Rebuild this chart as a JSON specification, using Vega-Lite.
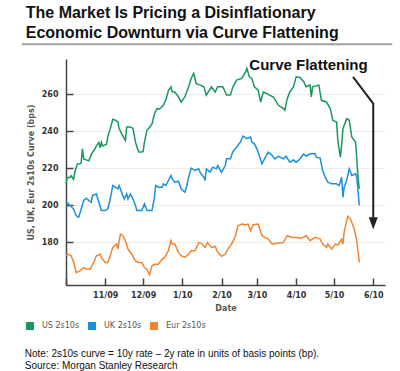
{
  "$schema": "https://vega.github.io/schema/vega-lite/v6.json",
  "padding": {"left": 20, "top": 4, "right": 9, "bottom": 4},
  "title": {
    "text": ["The Market Is Pricing a Disinflationary", "Economic Downturn via Curve Flattening"],
    "anchor": "start", "frame": "bounds", "dx": 5,
    "font": "Liberation Sans", "fontSize": 16, "fontWeight": "bold", "color": "#111111",
    "lineHeight": 20.6, "offset": 2
  },
  "datasets": {
    "curves": [
      {"date": "2009-10-01", "series": "US 2s10s", "value": 212},
      {"date": "2009-10-02", "series": "US 2s10s", "value": 215},
      {"date": "2009-10-04", "series": "US 2s10s", "value": 215},
      {"date": "2009-10-05", "series": "US 2s10s", "value": 216},
      {"date": "2009-10-07", "series": "US 2s10s", "value": 214},
      {"date": "2009-10-08", "series": "US 2s10s", "value": 218},
      {"date": "2009-10-10", "series": "US 2s10s", "value": 222.4},
      {"date": "2009-10-12", "series": "US 2s10s", "value": 222.5},
      {"date": "2009-10-13", "series": "US 2s10s", "value": 223},
      {"date": "2009-10-14", "series": "US 2s10s", "value": 230.5},
      {"date": "2009-10-15", "series": "US 2s10s", "value": 225},
      {"date": "2009-10-19", "series": "US 2s10s", "value": 224},
      {"date": "2009-10-21", "series": "US 2s10s", "value": 227.5},
      {"date": "2009-10-23", "series": "US 2s10s", "value": 229.6},
      {"date": "2009-10-25", "series": "US 2s10s", "value": 232},
      {"date": "2009-10-27", "series": "US 2s10s", "value": 234},
      {"date": "2009-10-28", "series": "US 2s10s", "value": 231},
      {"date": "2009-10-29", "series": "US 2s10s", "value": 234},
      {"date": "2009-10-30", "series": "US 2s10s", "value": 232},
      {"date": "2009-11-02", "series": "US 2s10s", "value": 233},
      {"date": "2009-11-03", "series": "US 2s10s", "value": 237},
      {"date": "2009-11-05", "series": "US 2s10s", "value": 241.4},
      {"date": "2009-11-07", "series": "US 2s10s", "value": 246.5},
      {"date": "2009-11-09", "series": "US 2s10s", "value": 246},
      {"date": "2009-11-11", "series": "US 2s10s", "value": 245},
      {"date": "2009-11-12", "series": "US 2s10s", "value": 241.5},
      {"date": "2009-11-14", "series": "US 2s10s", "value": 238.7},
      {"date": "2009-11-17", "series": "US 2s10s", "value": 235},
      {"date": "2009-11-18", "series": "US 2s10s", "value": 242.3},
      {"date": "2009-11-21", "series": "US 2s10s", "value": 242.3},
      {"date": "2009-11-23", "series": "US 2s10s", "value": 241.5},
      {"date": "2009-11-25", "series": "US 2s10s", "value": 234},
      {"date": "2009-11-27", "series": "US 2s10s", "value": 229.6},
      {"date": "2009-11-28", "series": "US 2s10s", "value": 228.7},
      {"date": "2009-12-01", "series": "US 2s10s", "value": 229},
      {"date": "2009-12-02", "series": "US 2s10s", "value": 234},
      {"date": "2009-12-04", "series": "US 2s10s", "value": 240.5},
      {"date": "2009-12-06", "series": "US 2s10s", "value": 242},
      {"date": "2009-12-08", "series": "US 2s10s", "value": 244},
      {"date": "2009-12-10", "series": "US 2s10s", "value": 249.5},
      {"date": "2009-12-12", "series": "US 2s10s", "value": 252.2},
      {"date": "2009-12-14", "series": "US 2s10s", "value": 252},
      {"date": "2009-12-17", "series": "US 2s10s", "value": 254},
      {"date": "2009-12-19", "series": "US 2s10s", "value": 257},
      {"date": "2009-12-21", "series": "US 2s10s", "value": 262},
      {"date": "2009-12-23", "series": "US 2s10s", "value": 264},
      {"date": "2009-12-24", "series": "US 2s10s", "value": 261.2},
      {"date": "2009-12-26", "series": "US 2s10s", "value": 261.2},
      {"date": "2009-12-29", "series": "US 2s10s", "value": 258.5},
      {"date": "2009-12-31", "series": "US 2s10s", "value": 255.8},
      {"date": "2010-01-03", "series": "US 2s10s", "value": 258.5},
      {"date": "2010-01-06", "series": "US 2s10s", "value": 264},
      {"date": "2010-01-08", "series": "US 2s10s", "value": 268.5},
      {"date": "2010-01-10", "series": "US 2s10s", "value": 271.2},
      {"date": "2010-01-12", "series": "US 2s10s", "value": 265.7},
      {"date": "2010-01-15", "series": "US 2s10s", "value": 264.9},
      {"date": "2010-01-18", "series": "US 2s10s", "value": 264},
      {"date": "2010-01-20", "series": "US 2s10s", "value": 259.5},
      {"date": "2010-01-24", "series": "US 2s10s", "value": 264},
      {"date": "2010-01-27", "series": "US 2s10s", "value": 261.2},
      {"date": "2010-01-29", "series": "US 2s10s", "value": 264},
      {"date": "2010-02-02", "series": "US 2s10s", "value": 264},
      {"date": "2010-02-05", "series": "US 2s10s", "value": 259.5},
      {"date": "2010-02-08", "series": "US 2s10s", "value": 259.5},
      {"date": "2010-02-10", "series": "US 2s10s", "value": 264},
      {"date": "2010-02-13", "series": "US 2s10s", "value": 267.6},
      {"date": "2010-02-17", "series": "US 2s10s", "value": 268.5},
      {"date": "2010-02-20", "series": "US 2s10s", "value": 272},
      {"date": "2010-02-21", "series": "US 2s10s", "value": 273.9},
      {"date": "2010-02-23", "series": "US 2s10s", "value": 269.4},
      {"date": "2010-02-25", "series": "US 2s10s", "value": 268.5},
      {"date": "2010-02-27", "series": "US 2s10s", "value": 264},
      {"date": "2010-03-02", "series": "US 2s10s", "value": 262.2},
      {"date": "2010-03-04", "series": "US 2s10s", "value": 255.8},
      {"date": "2010-03-06", "series": "US 2s10s", "value": 261.2},
      {"date": "2010-03-09", "series": "US 2s10s", "value": 260.3},
      {"date": "2010-03-11", "series": "US 2s10s", "value": 259.5},
      {"date": "2010-03-14", "series": "US 2s10s", "value": 258.5},
      {"date": "2010-03-18", "series": "US 2s10s", "value": 254},
      {"date": "2010-03-22", "series": "US 2s10s", "value": 252.2},
      {"date": "2010-03-23", "series": "US 2s10s", "value": 251.3},
      {"date": "2010-03-25", "series": "US 2s10s", "value": 257.6},
      {"date": "2010-03-27", "series": "US 2s10s", "value": 261.2},
      {"date": "2010-03-30", "series": "US 2s10s", "value": 264},
      {"date": "2010-04-01", "series": "US 2s10s", "value": 269.4},
      {"date": "2010-04-04", "series": "US 2s10s", "value": 269},
      {"date": "2010-04-07", "series": "US 2s10s", "value": 266.7},
      {"date": "2010-04-09", "series": "US 2s10s", "value": 264},
      {"date": "2010-04-12", "series": "US 2s10s", "value": 265},
      {"date": "2010-04-13", "series": "US 2s10s", "value": 258.5},
      {"date": "2010-04-14", "series": "US 2s10s", "value": 264},
      {"date": "2010-04-19", "series": "US 2s10s", "value": 264.9},
      {"date": "2010-04-21", "series": "US 2s10s", "value": 256.7},
      {"date": "2010-04-25", "series": "US 2s10s", "value": 255.8},
      {"date": "2010-04-28", "series": "US 2s10s", "value": 252.2},
      {"date": "2010-04-30", "series": "US 2s10s", "value": 245.9},
      {"date": "2010-05-03", "series": "US 2s10s", "value": 245},
      {"date": "2010-05-04", "series": "US 2s10s", "value": 235},
      {"date": "2010-05-06", "series": "US 2s10s", "value": 226},
      {"date": "2010-05-07", "series": "US 2s10s", "value": 232.4},
      {"date": "2010-05-08", "series": "US 2s10s", "value": 241.4},
      {"date": "2010-05-11", "series": "US 2s10s", "value": 246.8},
      {"date": "2010-05-13", "series": "US 2s10s", "value": 245.9},
      {"date": "2010-05-15", "series": "US 2s10s", "value": 236.9},
      {"date": "2010-05-18", "series": "US 2s10s", "value": 234.2},
      {"date": "2010-05-19", "series": "US 2s10s", "value": 225.1},
      {"date": "2010-05-20", "series": "US 2s10s", "value": 214.3},
      {"date": "2010-05-21", "series": "US 2s10s", "value": 208.9},

      {"date": "2009-10-01", "series": "UK 2s10s", "value": 202},
      {"date": "2009-10-04", "series": "UK 2s10s", "value": 200.2},
      {"date": "2009-10-07", "series": "UK 2s10s", "value": 198},
      {"date": "2009-10-09", "series": "UK 2s10s", "value": 194.5},
      {"date": "2009-10-11", "series": "UK 2s10s", "value": 193.5},
      {"date": "2009-10-13", "series": "UK 2s10s", "value": 198},
      {"date": "2009-10-15", "series": "UK 2s10s", "value": 202.6},
      {"date": "2009-10-17", "series": "UK 2s10s", "value": 203.8},
      {"date": "2009-10-19", "series": "UK 2s10s", "value": 202.6},
      {"date": "2009-10-21", "series": "UK 2s10s", "value": 201.7},
      {"date": "2009-10-22", "series": "UK 2s10s", "value": 205.3},
      {"date": "2009-10-25", "series": "UK 2s10s", "value": 206.2},
      {"date": "2009-10-27", "series": "UK 2s10s", "value": 201.7},
      {"date": "2009-10-29", "series": "UK 2s10s", "value": 197.2},
      {"date": "2009-11-01", "series": "UK 2s10s", "value": 197.2},
      {"date": "2009-11-03", "series": "UK 2s10s", "value": 198},
      {"date": "2009-11-05", "series": "UK 2s10s", "value": 203.4},
      {"date": "2009-11-07", "series": "UK 2s10s", "value": 210.7},
      {"date": "2009-11-09", "series": "UK 2s10s", "value": 209.8},
      {"date": "2009-11-11", "series": "UK 2s10s", "value": 208.9},
      {"date": "2009-11-12", "series": "UK 2s10s", "value": 210.7},
      {"date": "2009-11-14", "series": "UK 2s10s", "value": 207},
      {"date": "2009-11-16", "series": "UK 2s10s", "value": 203.4},
      {"date": "2009-11-18", "series": "UK 2s10s", "value": 206.2},
      {"date": "2009-11-19", "series": "UK 2s10s", "value": 203.4},
      {"date": "2009-11-21", "series": "UK 2s10s", "value": 206.2},
      {"date": "2009-11-23", "series": "UK 2s10s", "value": 203.4},
      {"date": "2009-11-25", "series": "UK 2s10s", "value": 199.9},
      {"date": "2009-11-26", "series": "UK 2s10s", "value": 197.2},
      {"date": "2009-11-30", "series": "UK 2s10s", "value": 197.2},
      {"date": "2009-12-02", "series": "UK 2s10s", "value": 200.8},
      {"date": "2009-12-04", "series": "UK 2s10s", "value": 197.2},
      {"date": "2009-12-08", "series": "UK 2s10s", "value": 197.2},
      {"date": "2009-12-10", "series": "UK 2s10s", "value": 204.4},
      {"date": "2009-12-11", "series": "UK 2s10s", "value": 210.7},
      {"date": "2009-12-13", "series": "UK 2s10s", "value": 209.8},
      {"date": "2009-12-16", "series": "UK 2s10s", "value": 209.8},
      {"date": "2009-12-17", "series": "UK 2s10s", "value": 211.6},
      {"date": "2009-12-19", "series": "UK 2s10s", "value": 210.7},
      {"date": "2009-12-21", "series": "UK 2s10s", "value": 213.4},
      {"date": "2009-12-23", "series": "UK 2s10s", "value": 216.1},
      {"date": "2009-12-24", "series": "UK 2s10s", "value": 214.3},
      {"date": "2009-12-26", "series": "UK 2s10s", "value": 212.5},
      {"date": "2009-12-29", "series": "UK 2s10s", "value": 213},
      {"date": "2009-12-31", "series": "UK 2s10s", "value": 208.9},
      {"date": "2010-01-03", "series": "UK 2s10s", "value": 207.1},
      {"date": "2010-01-04", "series": "UK 2s10s", "value": 208.9},
      {"date": "2010-01-06", "series": "UK 2s10s", "value": 215.2},
      {"date": "2010-01-08", "series": "UK 2s10s", "value": 220.1},
      {"date": "2010-01-11", "series": "UK 2s10s", "value": 218.8},
      {"date": "2010-01-14", "series": "UK 2s10s", "value": 219.7},
      {"date": "2010-01-15", "series": "UK 2s10s", "value": 217.9},
      {"date": "2010-01-18", "series": "UK 2s10s", "value": 215.2},
      {"date": "2010-01-19", "series": "UK 2s10s", "value": 213.4},
      {"date": "2010-01-20", "series": "UK 2s10s", "value": 219.7},
      {"date": "2010-01-23", "series": "UK 2s10s", "value": 218},
      {"date": "2010-01-25", "series": "UK 2s10s", "value": 220.6},
      {"date": "2010-01-28", "series": "UK 2s10s", "value": 219.7},
      {"date": "2010-01-29", "series": "UK 2s10s", "value": 221.5},
      {"date": "2010-02-01", "series": "UK 2s10s", "value": 217.9},
      {"date": "2010-02-04", "series": "UK 2s10s", "value": 221.5},
      {"date": "2010-02-05", "series": "UK 2s10s", "value": 225.1},
      {"date": "2010-02-08", "series": "UK 2s10s", "value": 225.1},
      {"date": "2010-02-10", "series": "UK 2s10s", "value": 229},
      {"date": "2010-02-13", "series": "UK 2s10s", "value": 231.5},
      {"date": "2010-02-16", "series": "UK 2s10s", "value": 234.2},
      {"date": "2010-02-18", "series": "UK 2s10s", "value": 237.4},
      {"date": "2010-02-21", "series": "UK 2s10s", "value": 236},
      {"date": "2010-02-24", "series": "UK 2s10s", "value": 236.9},
      {"date": "2010-02-25", "series": "UK 2s10s", "value": 234.2},
      {"date": "2010-02-27", "series": "UK 2s10s", "value": 233.2},
      {"date": "2010-03-01", "series": "UK 2s10s", "value": 230.5},
      {"date": "2010-03-02", "series": "UK 2s10s", "value": 228.7},
      {"date": "2010-03-05", "series": "UK 2s10s", "value": 222.4},
      {"date": "2010-03-07", "series": "UK 2s10s", "value": 225.1},
      {"date": "2010-03-10", "series": "UK 2s10s", "value": 228.7},
      {"date": "2010-03-13", "series": "UK 2s10s", "value": 227},
      {"date": "2010-03-15", "series": "UK 2s10s", "value": 225.1},
      {"date": "2010-03-18", "series": "UK 2s10s", "value": 226.5},
      {"date": "2010-03-22", "series": "UK 2s10s", "value": 225.1},
      {"date": "2010-03-24", "series": "UK 2s10s", "value": 226.5},
      {"date": "2010-03-27", "series": "UK 2s10s", "value": 223.3},
      {"date": "2010-03-30", "series": "UK 2s10s", "value": 224.5},
      {"date": "2010-04-01", "series": "UK 2s10s", "value": 223.3},
      {"date": "2010-04-04", "series": "UK 2s10s", "value": 225},
      {"date": "2010-04-07", "series": "UK 2s10s", "value": 227.8},
      {"date": "2010-04-09", "series": "UK 2s10s", "value": 226.5},
      {"date": "2010-04-12", "series": "UK 2s10s", "value": 227.8},
      {"date": "2010-04-16", "series": "UK 2s10s", "value": 227.8},
      {"date": "2010-04-17", "series": "UK 2s10s", "value": 226},
      {"date": "2010-04-20", "series": "UK 2s10s", "value": 225.5},
      {"date": "2010-04-22", "series": "UK 2s10s", "value": 218.8},
      {"date": "2010-04-24", "series": "UK 2s10s", "value": 215.2},
      {"date": "2010-04-26", "series": "UK 2s10s", "value": 212.5},
      {"date": "2010-04-29", "series": "UK 2s10s", "value": 211.6},
      {"date": "2010-05-03", "series": "UK 2s10s", "value": 211.6},
      {"date": "2010-05-05", "series": "UK 2s10s", "value": 210.7},
      {"date": "2010-05-07", "series": "UK 2s10s", "value": 215.2},
      {"date": "2010-05-08", "series": "UK 2s10s", "value": 204.4},
      {"date": "2010-05-09", "series": "UK 2s10s", "value": 209.8},
      {"date": "2010-05-11", "series": "UK 2s10s", "value": 213.4},
      {"date": "2010-05-13", "series": "UK 2s10s", "value": 219.7},
      {"date": "2010-05-15", "series": "UK 2s10s", "value": 216.1},
      {"date": "2010-05-18", "series": "UK 2s10s", "value": 217},
      {"date": "2010-05-19", "series": "UK 2s10s", "value": 215.2},
      {"date": "2010-05-20", "series": "UK 2s10s", "value": 207.1},
      {"date": "2010-05-21", "series": "UK 2s10s", "value": 200},

      {"date": "2009-10-01", "series": "Eur 2s10s", "value": 173.1},
      {"date": "2009-10-03", "series": "Eur 2s10s", "value": 173.6},
      {"date": "2009-10-05", "series": "Eur 2s10s", "value": 172.8},
      {"date": "2009-10-07", "series": "Eur 2s10s", "value": 169.5},
      {"date": "2009-10-09", "series": "Eur 2s10s", "value": 163.7},
      {"date": "2009-10-12", "series": "Eur 2s10s", "value": 164.6},
      {"date": "2009-10-15", "series": "Eur 2s10s", "value": 166.4},
      {"date": "2009-10-17", "series": "Eur 2s10s", "value": 165.5},
      {"date": "2009-10-20", "series": "Eur 2s10s", "value": 165.5},
      {"date": "2009-10-23", "series": "Eur 2s10s", "value": 169.2},
      {"date": "2009-10-25", "series": "Eur 2s10s", "value": 172.8},
      {"date": "2009-10-28", "series": "Eur 2s10s", "value": 173.6},
      {"date": "2009-10-29", "series": "Eur 2s10s", "value": 171.9},
      {"date": "2009-11-01", "series": "Eur 2s10s", "value": 169.2},
      {"date": "2009-11-03", "series": "Eur 2s10s", "value": 169.2},
      {"date": "2009-11-05", "series": "Eur 2s10s", "value": 172.8},
      {"date": "2009-11-07", "series": "Eur 2s10s", "value": 177.3},
      {"date": "2009-11-10", "series": "Eur 2s10s", "value": 179.1},
      {"date": "2009-11-11", "series": "Eur 2s10s", "value": 176.4},
      {"date": "2009-11-13", "series": "Eur 2s10s", "value": 184.5},
      {"date": "2009-11-15", "series": "Eur 2s10s", "value": 183.6},
      {"date": "2009-11-17", "series": "Eur 2s10s", "value": 180.9},
      {"date": "2009-11-19", "series": "Eur 2s10s", "value": 176.4},
      {"date": "2009-11-22", "series": "Eur 2s10s", "value": 173.6},
      {"date": "2009-11-25", "series": "Eur 2s10s", "value": 170},
      {"date": "2009-11-27", "series": "Eur 2s10s", "value": 169.2},
      {"date": "2009-11-30", "series": "Eur 2s10s", "value": 169.2},
      {"date": "2009-12-02", "series": "Eur 2s10s", "value": 166.4},
      {"date": "2009-12-04", "series": "Eur 2s10s", "value": 165.5},
      {"date": "2009-12-06", "series": "Eur 2s10s", "value": 162.5},
      {"date": "2009-12-08", "series": "Eur 2s10s", "value": 167.4},
      {"date": "2009-12-10", "series": "Eur 2s10s", "value": 168.2},
      {"date": "2009-12-13", "series": "Eur 2s10s", "value": 168.2},
      {"date": "2009-12-16", "series": "Eur 2s10s", "value": 171},
      {"date": "2009-12-18", "series": "Eur 2s10s", "value": 171.9},
      {"date": "2009-12-21", "series": "Eur 2s10s", "value": 175.5},
      {"date": "2009-12-23", "series": "Eur 2s10s", "value": 181},
      {"date": "2009-12-24", "series": "Eur 2s10s", "value": 179.1},
      {"date": "2009-12-26", "series": "Eur 2s10s", "value": 179.1},
      {"date": "2009-12-29", "series": "Eur 2s10s", "value": 174.6},
      {"date": "2009-12-31", "series": "Eur 2s10s", "value": 172.8},
      {"date": "2010-01-03", "series": "Eur 2s10s", "value": 171.9},
      {"date": "2010-01-06", "series": "Eur 2s10s", "value": 173.6},
      {"date": "2010-01-08", "series": "Eur 2s10s", "value": 175.5},
      {"date": "2010-01-11", "series": "Eur 2s10s", "value": 175.5},
      {"date": "2010-01-14", "series": "Eur 2s10s", "value": 180},
      {"date": "2010-01-16", "series": "Eur 2s10s", "value": 179.5},
      {"date": "2010-01-19", "series": "Eur 2s10s", "value": 177.3},
      {"date": "2010-01-21", "series": "Eur 2s10s", "value": 180},
      {"date": "2010-01-24", "series": "Eur 2s10s", "value": 177.3},
      {"date": "2010-01-27", "series": "Eur 2s10s", "value": 177.8},
      {"date": "2010-01-29", "series": "Eur 2s10s", "value": 174.6},
      {"date": "2010-02-01", "series": "Eur 2s10s", "value": 172.5},
      {"date": "2010-02-04", "series": "Eur 2s10s", "value": 173.6},
      {"date": "2010-02-06", "series": "Eur 2s10s", "value": 176.4},
      {"date": "2010-02-09", "series": "Eur 2s10s", "value": 179.1},
      {"date": "2010-02-12", "series": "Eur 2s10s", "value": 183.6},
      {"date": "2010-02-14", "series": "Eur 2s10s", "value": 189},
      {"date": "2010-02-17", "series": "Eur 2s10s", "value": 189.9},
      {"date": "2010-02-20", "series": "Eur 2s10s", "value": 189.5},
      {"date": "2010-02-22", "series": "Eur 2s10s", "value": 189.9},
      {"date": "2010-02-24", "series": "Eur 2s10s", "value": 186.3},
      {"date": "2010-02-26", "series": "Eur 2s10s", "value": 189.5},
      {"date": "2010-03-02", "series": "Eur 2s10s", "value": 189.9},
      {"date": "2010-03-05", "series": "Eur 2s10s", "value": 183.6},
      {"date": "2010-03-07", "series": "Eur 2s10s", "value": 182.7},
      {"date": "2010-03-10", "series": "Eur 2s10s", "value": 181.8},
      {"date": "2010-03-13", "series": "Eur 2s10s", "value": 179.1},
      {"date": "2010-03-17", "series": "Eur 2s10s", "value": 179.5},
      {"date": "2010-03-22", "series": "Eur 2s10s", "value": 180},
      {"date": "2010-03-25", "series": "Eur 2s10s", "value": 183.6},
      {"date": "2010-03-29", "series": "Eur 2s10s", "value": 182.7},
      {"date": "2010-04-01", "series": "Eur 2s10s", "value": 182.7},
      {"date": "2010-04-05", "series": "Eur 2s10s", "value": 182.2},
      {"date": "2010-04-09", "series": "Eur 2s10s", "value": 183.6},
      {"date": "2010-04-12", "series": "Eur 2s10s", "value": 180.9},
      {"date": "2010-04-16", "series": "Eur 2s10s", "value": 182.7},
      {"date": "2010-04-20", "series": "Eur 2s10s", "value": 181.8},
      {"date": "2010-04-22", "series": "Eur 2s10s", "value": 179.1},
      {"date": "2010-04-25", "series": "Eur 2s10s", "value": 177.3},
      {"date": "2010-04-26", "series": "Eur 2s10s", "value": 179.1},
      {"date": "2010-04-29", "series": "Eur 2s10s", "value": 176.4},
      {"date": "2010-05-02", "series": "Eur 2s10s", "value": 179.1},
      {"date": "2010-05-04", "series": "Eur 2s10s", "value": 178.5},
      {"date": "2010-05-07", "series": "Eur 2s10s", "value": 181.8},
      {"date": "2010-05-08", "series": "Eur 2s10s", "value": 179.1},
      {"date": "2010-05-09", "series": "Eur 2s10s", "value": 185.4},
      {"date": "2010-05-11", "series": "Eur 2s10s", "value": 192},
      {"date": "2010-05-12", "series": "Eur 2s10s", "value": 194.1},
      {"date": "2010-05-14", "series": "Eur 2s10s", "value": 192.6},
      {"date": "2010-05-17", "series": "Eur 2s10s", "value": 187.2},
      {"date": "2010-05-19", "series": "Eur 2s10s", "value": 180.5},
      {"date": "2010-05-20", "series": "Eur 2s10s", "value": 174.6},
      {"date": "2010-05-21", "series": "Eur 2s10s", "value": 169.2}
    ],
    "arrow": [
      {"date": "2010-05-16", "value": 269.4, "step": 1},
      {"date": "2010-06-01", "value": 254.9, "step": 2},
      {"date": "2010-06-01", "value": 193.5, "step": 3}
    ],
    "arrowhead": [
      {"date": "2010-06-01", "value": 190.3}
    ],
    "annotation": [
      {"date": "2010-02-23", "value": 273.2, "label": "Curve Flattening"}
    ],
    "underline": [
      {"date": "2009-08-27", "date2": "2010-06-16", "value": 286.9}
    ]
  },
  "vconcat": [
    {
      "width": 319,
      "height": 226,
      "title": {
        "text": ["Note: 2s10s curve = 10y rate \u2013 2y rate in units of basis points (bp).", "Source: Morgan Stanley Research"],
        "orient": "bottom", "anchor": "start", "frame": "bounds", "dx": 4,
        "font": "Liberation Sans", "fontSize": 10, "fontWeight": "normal", "color": "#111111",
        "lineHeight": 11.5, "offset": 37
      },
      "encoding": {
        "x": {
          "field": "date", "type": "temporal",
          "scale": {"domain": ["2009-10-01", "2010-06-10T07:00:00Z"]},
          "axis": {
            "title": "Date",
            "tickCount": {"interval": "month", "step": 1},
            "labelExpr": "utcFormat(datum.value, '%-m/%y') == '10/09' ? '' : utcFormat(datum.value, '%-m/%y')",
            "grid": false,
            "tickSize": -7, "labelPadding": 13,
            "labelFont": "DejaVu Sans", "labelFontSize": 8, "labelFontWeight": "bold", "labelColor": "#333333",
            "titleFont": "DejaVu Sans", "titleFontSize": 8, "titleFontWeight": "bold", "titleColor": "#555555", "titlePadding": 5
          }
        },
        "y": {
          "field": "value", "type": "quantitative",
          "scale": {"domain": [157, 279], "nice": false, "zero": false},
          "axis": {
            "title": "US, UK, Eur 2s10s Curve (bps)",
            "values": [180, 200, 220, 240, 260],
            "grid": true, "gridColor": "#ececec",
            "tickSize": -7, "labelPadding": 15,
            "labelFont": "DejaVu Sans", "labelFontSize": 8, "labelFontWeight": "bold", "labelColor": "#333333",
            "titleFont": "DejaVu Sans", "titleFontSize": 8, "titleFontWeight": "bold", "titleColor": "#555555", "titlePadding": 6
          }
        }
      },
      "layer": [
        {
          "data": {"name": "curves"},
          "mark": {"type": "line", "strokeWidth": 1.5},
          "encoding": {
            "color": {
              "field": "series", "type": "nominal",
              "scale": {"domain": ["US 2s10s", "UK 2s10s", "Eur 2s10s"], "range": ["#17985b", "#1c90d9", "#ee8633"]},
              "legend": {
                "orient": "none", "legendX": -40, "legendY": 263,
                "direction": "horizontal", "title": null,
                "symbolType": "square", "symbolSize": 64,
                "labelFont": "DejaVu Sans", "labelFontSize": 8, "labelColor": "#555555",
                "labelOffset": 8, "columnPadding": 8,
                "encode": {"symbols": {"update": {"fill": {"scale": "color", "field": "value"}, "fillOpacity": {"value": 1}, "strokeWidth": {"value": 0}}}}
              }
            }
          }
        },
        {
          "data": {"name": "underline"},
          "mark": {"type": "rule", "color": "#a0a0a0", "strokeWidth": 2, "clip": false},
          "encoding": {
            "x2": {"field": "date2"}
          }
        },
        {
          "data": {"name": "arrow"},
          "mark": {"type": "line", "color": "#222222", "strokeWidth": 2, "clip": false},
          "encoding": {
            "order": {"field": "step"}
          }
        },
        {
          "data": {"name": "arrowhead"},
          "mark": {"type": "point", "shape": "M-0.75,-1L0.75,-1L0,1Z", "size": 144, "filled": true, "opacity": 1, "color": "#222222", "clip": false},
          "encoding": {}
        },
        {
          "data": {"name": "annotation"},
          "mark": {"type": "text", "align": "left", "baseline": "alphabetic", "font": "Liberation Sans", "fontSize": 15, "fontWeight": "bold", "color": "#111111", "clip": false},
          "encoding": {
            "text": {"field": "label"}
          }
        }
      ]
    }
  ],
  "config": {
    "view": {"stroke": null},
    "axis": {"domainColor": "#444444", "domainWidth": 1.5, "tickColor": "#444444", "tickWidth": 1.5}
  }
}
